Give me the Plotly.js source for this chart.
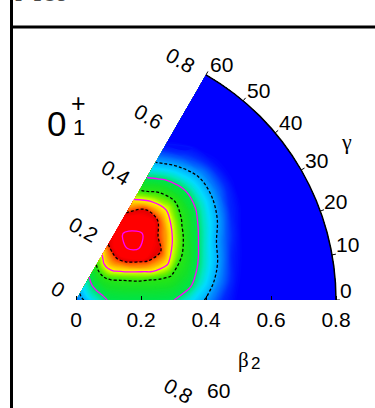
<!DOCTYPE html>
<html><head><meta charset="utf-8">
<script src="https://cdn.plot.ly/plotly-3.0.1.min.js"></script>
<style>html,body{margin:0;padding:0;background:#fff}#plot{width:375px;height:408px}</style>
</head><body><div id="plot"></div>
<script>
// ---- data ----
const betaGrid  = [0,0.05,0.1,0.15,0.2,0.25,0.3,0.35,0.4,0.45,0.5,0.55,0.6,0.65,0.7,0.75,0.8];
const gammaGrid = [0,7.5,15,22.5,30,37.5,45,52.5,60];
// surface value per gamma row (one value per beta); contour levels are 1..6
const surfG0    = [6.42,5.55,4.95,4.91,4.91,4.92,4.98,5.49,6.06,6.78,7.27,7.61,7.90,8.10,8.40,8.70,9.00];
const surfG7_5  = [6.42,5.44,4.82,4.69,4.61,4.54,4.57,4.86,5.57,6.35,7.12,7.52,7.83,8.05,8.30,8.60,8.90];
const surfG15   = [6.42,5.36,4.69,4.43,4.20,3.95,3.92,4.46,5.21,5.98,6.94,7.40,7.74,8.00,8.30,8.60,8.90];
const surfG22_5 = [6.42,5.31,4.56,4.10,3.42,2.66,2.77,3.97,4.87,5.70,6.54,7.20,7.57,7.86,8.10,8.40,8.70];
const surfG30   = [6.42,5.30,4.45,3.53,2.41,1.84,1.97,3.21,4.47,5.24,5.97,6.87,7.35,7.68,7.94,8.20,8.45];
const surfG37_5 = [6.42,5.31,4.37,2.89,1.86,1.21,1.72,2.47,3.83,4.79,5.57,6.41,7.14,7.52,7.80,8.05,8.30];
const surfG45   = [6.42,5.36,4.36,2.59,1.59,0.37,1.18,1.93,3.21,4.55,5.42,6.26,7.10,7.47,7.79,8.05,8.30];
const surfG52_5 = [6.42,5.43,4.48,2.68,1.68,0.74,1.49,1.97,3.60,4.76,5.67,6.62,7.25,7.59,7.86,8.10,8.35];
const surfG60   = [6.42,5.52,4.69,3.31,1.95,1.63,1.82,2.78,4.33,5.28,6.21,7.10,7.46,7.75,8.00,8.25,8.50];
const magentaLevels = [1,3,5];
const dashedLevels  = [2,4,6];
const betaTicks = [0,0.2,0.4,0.6,0.8];
const betaTickText = ['0','0.2','0.4','0.6','0.8'];
const gammaTicks = [0,10,20,30,40,50,60];
const gammaTickText = ['0','10','20','30','40','50','60'];
const betaMax = 0.8;

// ---- build ----
const surface = [surfG0,surfG7_5,surfG15,surfG22_5,surfG30,surfG37_5,surfG45,surfG52_5,surfG60];
const rad = Math.PI/180;
const cx = gammaGrid.map(g => betaGrid.map(b => b*Math.cos(g*rad)));
const cy = gammaGrid.map(g => betaGrid.map(b => b*Math.sin(g*rad)));

const SANS = 'Liberation Sans, Arial, Helvetica, sans-serif';
const SERIF = 'Liberation Serif, Times New Roman, serif';

const cscale = [
  [0,'rgb(255,0,0)'],[0.233,'rgb(255,0,0)'],[0.263,'rgb(225,0,0)'],[0.271,'rgb(255,60,0)'],
  [0.307,'rgb(255,130,0)'],[0.347,'rgb(255,195,0)'],[0.387,'rgb(255,240,0)'],[0.42,'rgb(210,255,0)'],
  [0.48,'rgb(110,240,0)'],[0.533,'rgb(40,230,20)'],[0.6,'rgb(20,225,40)'],[0.653,'rgb(0,228,70)'],
  [0.707,'rgb(0,230,190)'],[0.747,'rgb(0,220,255)'],[0.8,'rgb(0,170,255)'],[0.853,'rgb(0,110,255)'],
  [0.907,'rgb(0,40,255)'],[0.96,'rgb(0,0,255)'],[1,'rgb(0,0,255)']
];

const axisOff = {showgrid:false, showticklabels:'none', startline:false, endline:false, smoothing:1, minorgridcount:0, color:'rgba(0,0,0,0)'};

const traces = [];
traces.push({type:'carpet', carpet:'pes', a:betaGrid, b:gammaGrid, x:cx, y:cy,
  aaxis:Object.assign({},axisOff), baxis:Object.assign({},axisOff), hoverinfo:'skip'});
traces.push({type:'contourcarpet', carpet:'pes', a:betaGrid, b:gammaGrid, z:surface,
  autocontour:false, contours:{start:0,end:7.5,size:0.05,coloring:'fill',showlines:false},
  colorscale:cscale, showscale:false, line:{width:0,smoothing:1}, hoverinfo:'skip'});
magentaLevels.forEach(v => traces.push({type:'contourcarpet', carpet:'pes', a:betaGrid, b:gammaGrid, z:surface,
  contours:{type:'constraint', operation:'=', value:v, showlines:true},
  line:{color:'#ff00ff', width:1.3, smoothing:1}, showscale:false, hoverinfo:'skip'}));
dashedLevels.forEach(v => traces.push({type:'contourcarpet', carpet:'pes', a:betaGrid, b:gammaGrid, z:surface,
  contours:{type:'constraint', operation:'=', value:v, showlines:true},
  line:{color:'#000', width:1.3, dash:'3px,2px', smoothing:1}, showscale:false, hoverinfo:'skip'}));
traces.push({type:'carpet', carpet:'arc', a:betaGrid, b:gammaGrid, x:cx, y:cy,
  aaxis:Object.assign({},axisOff,{endline:true, endlinecolor:'#000', endlinewidth:1.5}),
  baxis:Object.assign({},axisOff), hoverinfo:'skip'});
const tkx=[], tky=[];
gammaTicks.forEach(g => {
  tkx.push(betaMax*Math.cos(g*rad), (betaMax+0.012)*Math.cos(g*rad), null);
  tky.push(betaMax*Math.sin(g*rad), (betaMax+0.012)*Math.sin(g*rad), null);
});
traces.push({type:'scatter', mode:'lines', x:tkx, y:tky, line:{color:'#000', width:1}, hoverinfo:'skip', cliponaxis:false});

// ---- annotations ----
const PX = 325;
const ann = [];
betaTicks.forEach((b,i) => {
  const t = betaTickText[i];
  const w = 21*(0.556*t.replace('.','').length + 0.278*(t.includes('.')?1:0));
  const D = 14.5 + w/2;
  ann.push({x:b*Math.cos(60*rad), y:b*Math.sin(60*rad), xref:'x', yref:'y', text:t, showarrow:false,
    textangle:30, xanchor:'center', yanchor:'middle', xshift:-0.866*D, yshift:0.5*D,
    font:{family:SANS, size:21, color:'#000'}});
});
gammaTicks.forEach((g,i) => {
  ann.push({x:betaMax*Math.cos(g*rad), y:betaMax*Math.sin(g*rad), xref:'x', yref:'y', text:gammaTickText[i],
    showarrow:false, xanchor:'left', yanchor:'middle', xshift:2, yshift:10,
    font:{family:SANS, size:21, color:'#000'}});
});
const P = (px,py) => ({x:px/375, y:(300-py)/300, xref:'paper', yref:'paper'});
function txt(px,py,text,size,family,extra){
  return Object.assign(P(px,py), {text:text, showarrow:false, xanchor:'center', yanchor:'middle',
    font:{family:family||SANS, size:size, color:'#000'}}, extra||{});
}
ann.push(txt(56,123.5,'0',35));
ann.push(txt(78,103.5,'+',25));
ann.push(txt(78.5,127.5,'1',22));
ann.push(txt(346.5,141,'γ',22,SERIF));
ann.push(txt(243.5,360,'β',21,SERIF));
ann.push(txt(255.5,363,'2',17));
ann.push(txt(178,390,'0.8',21,SANS,{textangle:30}));
ann.push(txt(218,391,'60',21));
ann.push(Object.assign(P(11,10.5), {text:'<b>Ra</b>', showarrow:false, xanchor:'left', yanchor:'bottom',
  font:{family:SANS, size:40, color:'#4a4a4a'}}));

const shapes = [
  {type:'line', xref:'paper', yref:'paper', x0:11.5/375, x1:11.5/375, y0:1, y1:(300-408)/300, line:{color:'#000', width:3}},
  {type:'line', xref:'paper', yref:'paper', x0:11.5/375, x1:1, y0:(300-27)/300, y1:(300-27)/300, line:{color:'#000', width:3}}
];

const layout = {
  width:375, height:408, margin:{l:0,r:0,t:0,b:108,pad:0},
  paper_bgcolor:'#fff', plot_bgcolor:'rgba(0,0,0,0)', showlegend:false,
  xaxis:{range:[-76/PX, 299/PX], tickvals:betaTicks, ticktext:betaTickText, ticks:'inside', ticklen:4,
    tickcolor:'#000', tickwidth:1, showgrid:false, zeroline:false, showline:false, ticklabelstandoff:5,
    tickfont:{family:SANS, size:21, color:'#000'}, fixedrange:true},
  yaxis:{range:[0, 300/PX], visible:false, fixedrange:true},
  annotations:ann, shapes:shapes
};
Plotly.newPlot('plot', traces, layout, {staticPlot:true, displayModeBar:false});
</script>
</body></html>
